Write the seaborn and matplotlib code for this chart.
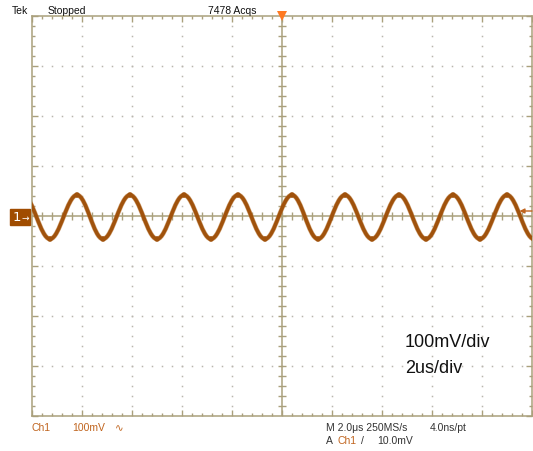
import numpy as np
import pandas as pd
import matplotlib
matplotlib.use("Agg")
import matplotlib.pyplot as plt
from matplotlib.path import Path
from matplotlib.patches import PathPatch, Rectangle
import seaborn as sns

# Screen settings: 10 horizontal divisions of 2 us, 8 vertical divisions of 100 mV
time_per_div_us = 2.0
volts_per_div_mv = 100.0
n_hdiv = 10
n_vdiv = 8

# Channel 1 waveform: times (us) and levels (mV) of successive peaks and troughs
extrema_time_us = [-10.36, -9.28, -8.20, -7.16, -6.08, -5.00, -3.92, -2.84, -1.76,
                   -0.68, 0.40, 1.44, 2.52, 3.60, 4.68, 5.76, 6.84, 7.92, 9.00, 10.08]
extrema_level_mv = [42, -46, 42, -46, 42, -46, 42, -46, 42,
                    -46, 42, -46, 42, -46, 42, -46, 42, -46, 42, -46]

trigger_level_mv = 10.0

top_labels = ["Tek", "Stopped", "7478 Acqs"]
scale_labels = ["100mV/div", "2us/div"]

trace_color = "#a0520c"
chan_color = "#c0641e"
grat_color = "#aaa07c"
dot_color = "#b9b6ad"

sns.set_style("white")
plt.rcParams["font.family"] = ["Liberation Sans", "DejaVu Sans"]

W, H = 533, 452
fig = plt.figure(figsize=(W / 100, H / 100), dpi=100)
left_px, top_px, right_px, bottom_px = 32, 17, 532, 417
ax = fig.add_axes([left_px / W, (H - bottom_px) / H,
                   (right_px - left_px) / W, (bottom_px - top_px) / H])

xmax = time_per_div_us * n_hdiv / 2
ymax = volts_per_div_mv * n_vdiv / 2
ax.set_xlim(-xmax, xmax)
ax.set_ylim(-ymax, ymax)

# Border with inward graticule ticks
for sp in ax.spines.values():
    sp.set_color(grat_color)
    sp.set_linewidth(1.1)
ax.set_xticks(np.arange(-xmax, xmax + 1e-9, time_per_div_us))
ax.set_xticks(np.arange(-xmax, xmax + 1e-9, time_per_div_us / 5), minor=True)
ax.set_yticks(np.arange(-ymax, ymax + 1e-9, volts_per_div_mv))
ax.set_yticks(np.arange(-ymax, ymax + 1e-9, volts_per_div_mv / 5), minor=True)
ax.tick_params(which="both", direction="in", top=True, right=True, bottom=True, left=True,
               labelbottom=False, labelleft=False, color=grat_color, width=1.0)
ax.tick_params(which="major", length=4.5)
ax.tick_params(which="minor", length=2.3)

# Dotted division lines
xs_major = np.arange(-xmax + time_per_div_us, xmax, time_per_div_us)
ys_major = np.arange(-ymax + volts_per_div_mv, ymax, volts_per_div_mv)
ys_minor = np.arange(-ymax + volts_per_div_mv / 5, ymax, volts_per_div_mv / 5)
xs_minor = np.arange(-xmax + time_per_div_us / 5, xmax, time_per_div_us / 5)
for xv in xs_major:
    if abs(xv) < 1e-9:
        continue
    ax.plot(np.full_like(ys_minor, xv), ys_minor, ls="none", marker="s",
            ms=1.1, mew=0, color=dot_color, zorder=1)
for yv in ys_major:
    if abs(yv) < 1e-9:
        continue
    ax.plot(xs_minor, np.full_like(xs_minor, yv), ls="none", marker="s",
            ms=1.1, mew=0, color=dot_color, zorder=1)

# Centre cross with its own tick marks
ax.axhline(0, color=grat_color, lw=1.1, zorder=2)
ax.axvline(0, color=grat_color, lw=1.1, zorder=2)
ax.plot(xs_minor, np.zeros_like(xs_minor), ls="none", marker="|", ms=6,
        mew=1.0, color=grat_color, zorder=2)
ax.plot(np.zeros_like(ys_minor), ys_minor, ls="none", marker="_", ms=6,
        mew=1.0, color=grat_color, zorder=2)

# Trace: smooth half-cosine-like cubic segments between successive extrema
verts = [(extrema_time_us[0], extrema_level_mv[0])]
codes = [Path.MOVETO]
k = 1 - 2 / np.pi
for (t0, y0), (t1, y1) in zip(zip(extrema_time_us[:-1], extrema_level_mv[:-1]),
                              zip(extrema_time_us[1:], extrema_level_mv[1:])):
    h = t1 - t0
    verts += [(t0 + k * h, y0), (t1 - k * h, y1), (t1, y1)]
    codes += [Path.CURVE4] * 3
trace_path = Path(verts, codes)
ax.add_patch(PathPatch(trace_path, fill=False, edgecolor="#b8722e", lw=3.4,
                       alpha=0.6, zorder=4, capstyle="butt"))
ax.add_patch(PathPatch(trace_path, fill=False, edgecolor=trace_color, lw=2.6,
                       zorder=5, capstyle="butt"))

# Slightly heavier blobs where the persistence trace dwells at its extremes
ext = pd.DataFrame({"t": extrema_time_us, "v": extrema_level_mv})
sns.scatterplot(data=ext, x="t", y="v", ax=ax, s=16, color=trace_color,
                edgecolor="none", zorder=5, legend=False)

# Trigger position (top) and trigger level (right) markers
ax.plot([0], [ymax], marker="v", ms=7, color="#ff7a22", mew=0,
        clip_on=False, zorder=6)
ax.annotate("", xy=(xmax - 0.5, trigger_level_mv), xytext=(xmax, trigger_level_mv),
            arrowprops=dict(arrowstyle="-|>", color=chan_color, lw=1.0,
                            mutation_scale=7, shrinkA=0, shrinkB=0),
            zorder=6, annotation_clip=False)

ax.set_xlabel("")
ax.set_ylabel("")

# Channel ground marker at the left
fig.patches.append(Rectangle((10 / W, (H - 226) / H), 20 / W, 16 / H,
                             transform=fig.transFigure, color="#a04c00",
                             zorder=3))
fig.text(13 / W, 1 - 218 / H, "1", color="white", fontsize=9.5,
         va="center", ha="left", family=["DejaVu Sans"])
fig.text(21 / W, 1 - 218 / H, "→", color="white", fontsize=6.5,
         va="center", ha="left", family=["DejaVu Sans"])

# Status line at the top
small = 7.5
fig.text(12 / W, 1 - 14 / H, top_labels[0], fontsize=small, color="#111111")
fig.text(48 / W, 1 - 14 / H, top_labels[1], fontsize=small, color="#111111")
fig.text(208 / W, 1 - 14 / H, top_labels[2], fontsize=small, color="#111111")

# Readouts under the graticule
fig.text(31 / W, 1 - 431 / H, "Ch1", fontsize=small, color=chan_color)
fig.text(72 / W, 1 - 431 / H, "100mV", fontsize=small, color=chan_color)
fig.text(115 / W, 1 - 431 / H, "∿", fontsize=small, color=chan_color,
         family=["DejaVu Sans"])
fig.text(326 / W, 1 - 431 / H, "M 2.0μs 250MS/s", fontsize=small, color="#333333")
fig.text(430 / W, 1 - 431 / H, "4.0ns/pt", fontsize=small, color="#333333")
fig.text(326 / W, 1 - 444 / H, "A", fontsize=small, color="#333333")
fig.text(338 / W, 1 - 444 / H, "Ch1", fontsize=small, color=chan_color)
fig.text(361 / W, 1 - 444 / H, "/", fontsize=small, color="#333333")
fig.text(377 / W, 1 - 444 / H, "10.0mV", fontsize=small, color="#333333")

# Scale annotation inside the screen
ax.text(405 / W, 1 - 347 / H, scale_labels[0], transform=fig.transFigure,
        fontsize=13, color="#111111", zorder=7)
ax.text(405 / W, 1 - 373 / H, scale_labels[1], transform=fig.transFigure,
        fontsize=13, color="#111111", zorder=7)

fig.savefig("out.png", dpi=100)
